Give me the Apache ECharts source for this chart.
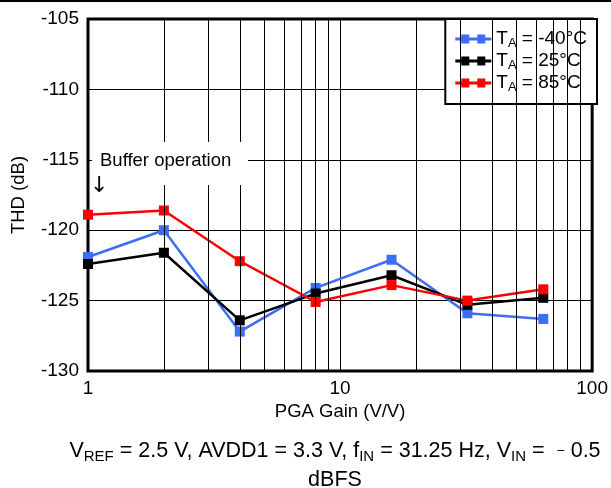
<!DOCTYPE html>
<html>
<head>
<meta charset="utf-8">
<script src="https://cdn.jsdelivr.net/npm/echarts@6/dist/echarts.min.js"></script>
<style>
  html, body { margin: 0; padding: 0; background: #fff; }
  #chart { width: 611px; height: 488px; }
</style>
</head>
<body>
<div id="chart"></div>
<script>
// PGA gain settings (V/V)
const gains = [1, 2, 4, 8, 16, 32, 64];
// THD (dB) at each gain, per ambient temperature
const thdMinus40 = [-121.9, -120.0, -127.2, -124.1, -122.1, -125.9, -126.3];
const thd25 = [-122.4, -121.6, -126.4, -124.5, -123.2, -125.3, -124.8];
const thd85 = [-118.9, -118.6, -122.2, -125.1, -123.9, -125.0, -124.2];
const seriesNames = ['T{sub|A} = -40°C', 'T{sub|A} = 25°C', 'T{sub|A} = 85°C'];
const seriesColors = ['#3b6ef5', '#000000', '#ff0000'];
// minor log grid positions
const minorGrid = [2, 3, 4, 5, 6, 7, 8, 9, 20, 30, 40, 50, 60, 70, 80, 90];
const yTicks = { min: -130, max: -105, step: 5 };

const FONT = '"Liberation Sans", Arial, sans-serif';
const legendIcon = 'path://M0,4 L36,4 L36,7 L0,7 Z M6,1 L14,1 L14,10 L6,10 Z M22,1 L30,1 L30,10 L22,10 Z';

function makeSeries(name, values, color) {
  return {
    name: name,
    type: 'line',
    data: gains.map((g, i) => [g, values[i]]),
    symbol: 'rect',
    symbolSize: 10,
    color: color,
    lineStyle: { width: 2.5, color: color },
    itemStyle: { color: color },
    z: 3
  };
}

const chart = echarts.init(document.getElementById('chart'));
chart.setOption({
  animation: false,
  backgroundColor: '#fff',
  textStyle: { fontFamily: FONT },
  grid: {
    left: 88, right: 15, top: 19, bottom: 117,
    show: true, borderColor: '#000', borderWidth: 3, backgroundColor: 'transparent',
    containLabel: false
  },
  xAxis: {
    type: 'log', logBase: 10, min: 1, max: 100,
    name: 'PGA Gain (V/V)', nameLocation: 'middle', nameGap: 30,
    nameTextStyle: { fontSize: 18.5, color: '#000', fontFamily: FONT },
    axisLine: { show: false },
    axisTick: { show: false },
    axisLabel: { fontSize: 19, color: '#000', margin: 8, fontFamily: FONT },
    splitLine: { show: true, lineStyle: { color: '#000', width: 1 } }
  },
  yAxis: {
    type: 'value', min: yTicks.min, max: yTicks.max, interval: yTicks.step,
    name: 'THD (dB)', nameLocation: 'middle', nameGap: 60, nameRotate: 90,
    nameTextStyle: { fontSize: 18.5, color: '#000', fontFamily: FONT },
    axisLine: { show: false },
    axisTick: { show: false },
    axisLabel: { fontSize: 19, color: '#000', margin: 9, fontFamily: FONT },
    splitLine: { show: true, lineStyle: { color: '#000', width: 1 } }
  },
  legend: {
    orient: 'vertical',
    right: 14, top: 19,
    backgroundColor: '#fff',
    borderColor: '#000', borderWidth: 2,
    padding: [9, 10, 10, 10],
    itemGap: 0,
    itemWidth: 36, itemHeight: 10,
    icon: legendIcon,
    formatter: n => n,
    textStyle: {
      fontSize: 19, color: '#000', lineHeight: 21, fontFamily: FONT,
      rich: { sub: { fontSize: 13, lineHeight: 21, padding: [9, 0, 0, 0], fontFamily: FONT, color: '#000' } }
    },
    data: seriesNames
  },
  title: {
    text: 'V{sub|REF} = 2.5 V, AVDD1 = 3.3 V, f{sub|IN} = 31.25 Hz, V{sub|IN} =  {m|−} 0.5\ndBFS',
    left: 330, top: 432, textAlign: 'center',
    textStyle: {
      fontSize: 21.5, fontWeight: 'normal', color: '#000', lineHeight: 29, fontFamily: FONT,
      rich: {
        sub: { fontSize: 15, lineHeight: 29, padding: [10, 0, 0, 0], color: '#000', fontFamily: FONT },
        m: { fontSize: 14, color: '#000', fontFamily: FONT }
      }
    }
  },
  series: [
    {
      type: 'line', data: [], silent: true, z: 1,
      markLine: {
        silent: true, symbol: 'none', animation: false,
        label: { show: false },
        lineStyle: { color: '#000', width: 1, type: 'solid' },
        data: minorGrid.map(v => ({ xAxis: v }))
      }
    },
    makeSeries(seriesNames[0], thdMinus40, seriesColors[0]),
    makeSeries(seriesNames[1], thd25, seriesColors[1]),
    makeSeries(seriesNames[2], thd85, seriesColors[2])
  ],
  graphic: [
    { type: 'rect', z: 10, shape: { x: 0, y: 0, width: 611, height: 2 }, style: { fill: '#000' } },
    { type: 'rect', z: 10, shape: { x: 92, y: 142, width: 156, height: 43 }, style: { fill: '#fff' } },
    { type: 'text', z: 11, left: 100, top: 151,
      style: { text: 'Buffer operation', font: '18.5px ' + FONT, fill: '#000' } },
    { type: 'text', z: 11, left: 90, top: 175,
      style: { text: '↓', font: '22px "DejaVu Sans"', fill: '#000' } }
  ]
});
</script>
</body>
</html>
